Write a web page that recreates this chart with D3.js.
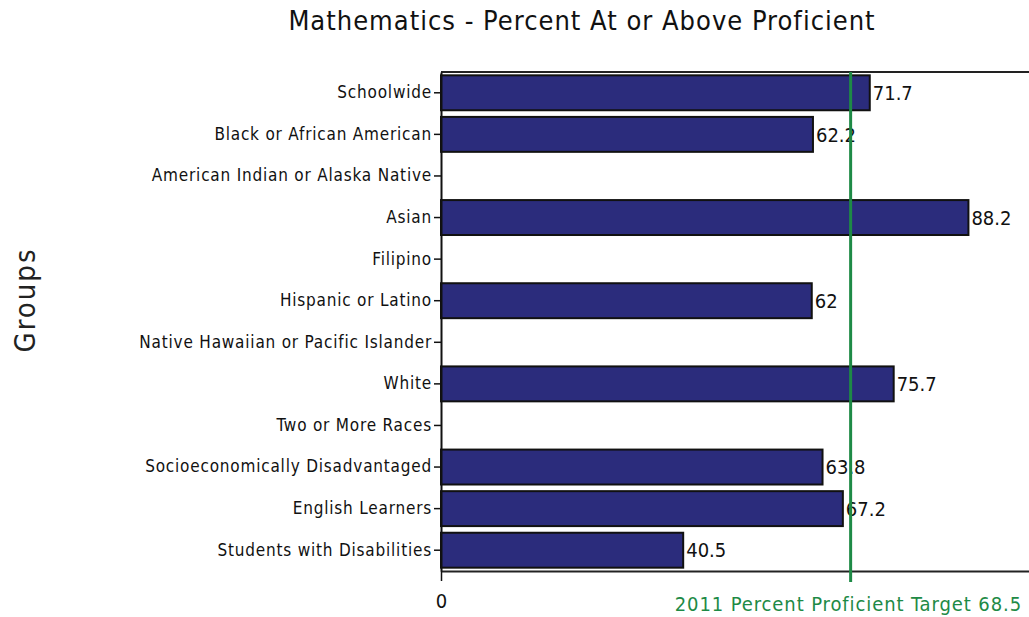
<!DOCTYPE html>
<html>
<head>
<meta charset="utf-8">
<script src="https://cdn.jsdelivr.net/npm/d3@7"></script>
<style>
  body { margin: 0; background: #fff; }
  svg { display: block; }
  text { font-family: "DejaVu Sans Condensed", "Liberation Sans", Arial, sans-serif; }
</style>
</head>
<body>
<div id="chart-area"></div>
<script>
// chart data
const groups = [
  'Schoolwide',
  'Black or African American',
  'American Indian or Alaska Native',
  'Asian',
  'Filipino',
  'Hispanic or Latino',
  'Native Hawaiian or Pacific Islander',
  'White',
  'Two or More Races',
  'Socioeconomically Disadvantaged',
  'English Learners',
  'Students with Disabilities'
];
const percents = [71.7, 62.2, null, 88.2, null, 62, null, 75.7, null, 63.8, 67.2, 40.5];
const target = 68.5;
const targetLabel = '2011 Percent Proficient Target 68.5';

const W = 1029, H = 617;
const margins = { top: 72, right: -10, bottom: 46, left: 441 };
const width = W - margins.left - margins.right;
const height = H - margins.top - margins.bottom;

const svg = d3.select('#chart-area')
  .append('svg')
  .attr('width', W)
  .attr('height', H);

const g = svg.append('g')
  .attr('transform', 'translate(' + margins.left + ', ' + margins.top + ')');

const x = d3.scaleLinear()
  .domain([0, 100])
  .range([0, width]);

const y = d3.scaleBand()
  .domain(groups)
  .range([0, height])
  .paddingInner(0.16)
  .paddingOuter(0.08);

// title
svg.append('text')
  .attr('x', 582)
  .attr('y', 30)
  .attr('text-anchor', 'middle')
  .attr('font-size', '27px')
  .attr('letter-spacing', '1px')
  .attr('fill', '#111')
  .text('Mathematics - Percent At or Above Proficient');

// y label
svg.append('text')
  .attr('transform', 'translate(35, 300) rotate(-90)')
  .attr('text-anchor', 'middle')
  .attr('font-size', '29px')
  .attr('letter-spacing', '2px')
  .attr('fill', '#222')
  .text('Groups');

// frame top line
g.append('line')
  .attr('x1', 0).attr('x2', width)
  .attr('y1', 0).attr('y2', 0)
  .attr('stroke', '#222')
  .attr('stroke-width', 2);

// bars
const data = groups.map((grp, i) => ({ group: grp, value: percents[i] }))
  .filter((d) => d.value !== null);

g.selectAll('rect.bar')
  .data(data)
  .enter()
  .append('rect')
  .attr('class', 'bar')
  .attr('x', x(0))
  .attr('y', (d) => y(d.group))
  .attr('width', (d) => x(d.value) - x(0))
  .attr('height', y.bandwidth())
  .attr('fill', '#2b2c7c')
  .attr('stroke', '#111')
  .attr('stroke-width', 2);

// value labels
g.selectAll('text.val')
  .data(data)
  .enter()
  .append('text')
  .attr('class', 'val')
  .attr('x', (d) => x(d.value) + 3)
  .attr('y', (d) => y(d.group) + y.bandwidth() / 2)
  .attr('dy', '0.36em')
  .attr('font-size', '20px')
  .attr('fill', '#111')
  .text((d) => d.value);

// y axis
const yAxis = g.append('g')
  .call(d3.axisLeft(y).tickSize(7).tickSizeOuter(0));
yAxis.select('.domain').attr('stroke', '#111').attr('stroke-width', 2);
yAxis.selectAll('.tick line').attr('stroke', '#111').attr('stroke-width', 1.5);
yAxis.selectAll('.tick text')
  .attr('x', -9)
  .attr('font-size', '17px')
  .attr('letter-spacing', '0.8px')
  .attr('font-family', '"DejaVu Sans Condensed", "Liberation Sans", Arial, sans-serif')
  .attr('fill', '#111');

// x axis
const xAxis = g.append('g')
  .attr('transform', 'translate(0, ' + height + ')')
  .call(d3.axisBottom(x).tickValues([0]).tickSize(10).tickSizeOuter(0));
xAxis.select('.domain').attr('stroke', '#222').attr('stroke-width', 2);
xAxis.selectAll('.tick line').attr('stroke', '#111').attr('stroke-width', 1.5);
xAxis.selectAll('.tick text')
  .attr('y', 23)
  .attr('font-size', '20px')
  .attr('font-family', '"DejaVu Sans Condensed", "Liberation Sans", Arial, sans-serif')
  .attr('fill', '#111');

// target line
g.append('line')
  .attr('x1', x(target)).attr('x2', x(target))
  .attr('y1', 0).attr('y2', height + 11)
  .attr('stroke', '#1e8a46')
  .attr('stroke-width', 3);

g.append('text')
  .attr('x', width - 17)
  .attr('y', height + 40)
  .attr('text-anchor', 'end')
  .attr('font-size', '20px')
  .attr('letter-spacing', '0.9px')
  .attr('fill', '#1e8a46')
  .text(targetLabel);
</script>
</body>
</html>
